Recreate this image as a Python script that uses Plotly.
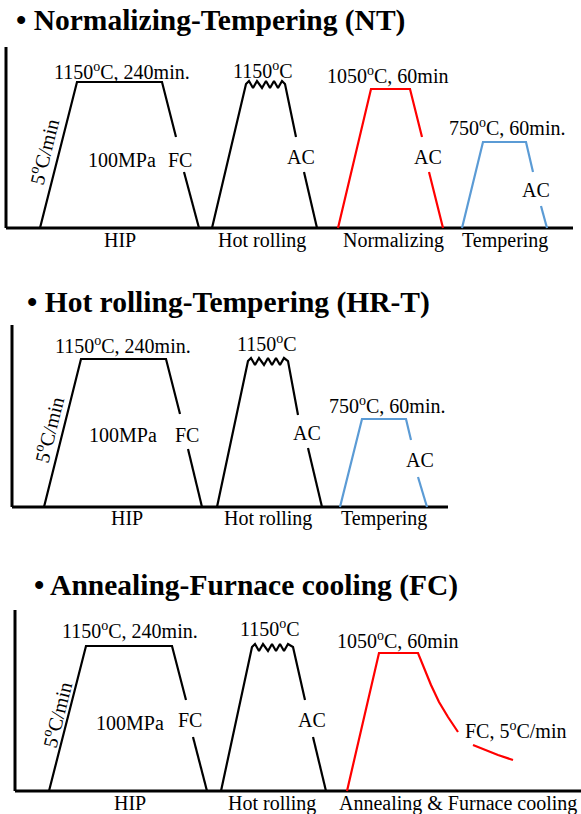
import plotly.graph_objects as go

W, H = 581, 814
FONT = "Liberation Serif"
BLACK, RED, BLUE = "#000000", "#ff0000", "#5b9bd5"
LABEL_SIZE = 20
TITLE_SIZE = 29.5

# ---------- schematic data (x: process time, schematic units; y: temperature level above baseline) ----------
# Panel 1: Normalizing-Tempering (NT)
p1_axis_x, p1_axis_y = [6, 6], [181, 0]
p1_base_x, p1_base_y = [6, 573], [0, 0]
p1_hip_a_x, p1_hip_a_y = [40, 77, 162, 176], [0, 146, 146, 91]
p1_hip_b_x, p1_hip_b_y = [184, 199], [56, 0]
p1_hr_a_x = [212, 246, 249, 253, 257, 262, 266, 270, 274, 278, 282, 285, 296]
p1_hr_a_y = [0, 144, 147, 140, 147, 140, 147, 140, 147, 140, 147, 144, 91]
p1_hr_b_x, p1_hr_b_y = [304, 317], [56, 0]
p1_norm_a_x, p1_norm_a_y = [338, 371, 410, 422], [0, 139, 139, 91]
p1_norm_b_x, p1_norm_b_y = [429, 443], [56, 0]
p1_temp_a_x, p1_temp_a_y = [462, 483, 526, 533], [0, 86, 86, 56]
p1_temp_b_x, p1_temp_b_y = [541, 547], [22, 0]

# Panel 2: Hot rolling-Tempering (HR-T)
p2_axis_x, p2_axis_y = [12, 12], [182, 0]
p2_base_x, p2_base_y = [12, 448], [0, 0]
p2_hip_a_x, p2_hip_a_y = [44, 81, 166, 180], [0, 148, 148, 93]
p2_hip_b_x, p2_hip_b_y = [188, 202], [58, 0]
p2_hr_a_x = [217, 248, 251, 255, 259, 264, 268, 272, 276, 280, 284, 288, 298]
p2_hr_a_y = [0, 146, 149, 142, 149, 142, 149, 142, 149, 142, 149, 146, 92]
p2_hr_b_x, p2_hr_b_y = [308, 322], [59, 0]
p2_temp_a_x, p2_temp_a_y = [340, 362, 406, 411], [0, 88, 88, 67]
p2_temp_b_x, p2_temp_b_y = [418, 427], [30, 0]

# Panel 3: Annealing-Furnace cooling (FC)
p3_axis_x, p3_axis_y = [15, 15], [181, 0]
p3_base_x, p3_base_y = [15, 581], [0, 0]
p3_hip_a_x, p3_hip_a_y = [49, 86, 172, 186], [0, 145, 145, 91]
p3_hip_b_x, p3_hip_b_y = [193, 207], [54, 0]
p3_hr_a_x = [221, 252, 255, 259, 263, 268, 272, 276, 280, 284, 288, 293, 305]
p3_hr_a_y = [0, 144, 147, 140, 147, 140, 147, 140, 147, 140, 147, 144, 91]
p3_hr_b_x, p3_hr_b_y = [313, 326], [54, 0]
p3_ann_a_x = [347, 379, 418, 424, 431, 439, 448, 458]
p3_ann_a_y = [0, 138, 138, 123, 106, 89, 74, 59]
p3_ann_b_x, p3_ann_b_y = [473, 485, 498, 513], [46, 41, 36, 31]

# ---------- labels: (text, x, y, angle) ----------
deg = "<sup>o</sup>C"
p1_labels = [
    ("1150" + deg + ", 240min.", 122, 157, 0),
    ("1150" + deg, 263, 158, 0),
    ("5" + deg + "/min", 43, 76, -76),
    ("100MPa", 122, 68, 0),
    ("FC", 180, 68, 0),
    ("AC", 301, 71, 0),
    ("1050" + deg + ", 60min", 387, 153, 0),
    ("AC", 428, 71, 0),
    ("750" + deg + ", 60min.", 507, 101, 0),
    ("AC", 536, 38, 0),
    ("HIP", 120, -12, 0),
    ("Hot rolling", 262, -12, 0),
    ("Normalizing", 393, -12, 0),
    ("Tempering", 505, -12, 0),
]
p2_labels = [
    ("1150" + deg + ", 240min.", 123, 162, 0),
    ("1150" + deg, 267, 164, 0),
    ("5" + deg + "/min", 48, 77, -76),
    ("100MPa", 123, 72, 0),
    ("FC", 187, 72, 0),
    ("AC", 307, 74, 0),
    ("750" + deg + ", 60min.", 387, 102, 0),
    ("AC", 420, 47, 0),
    ("HIP", 127, -11, 0),
    ("Hot rolling", 268, -11, 0),
    ("Tempering", 384, -11, 0),
]
p3_labels = [
    ("1150" + deg + ", 240min.", 130, 161, 0),
    ("1150" + deg, 270, 163, 0),
    ("5" + deg + "/min", 56, 76, -76),
    ("100MPa", 130, 68, 0),
    ("FC", 190, 71, 0),
    ("AC", 312, 71, 0),
    ("1050" + deg + ", 60min", 397, 151, 0),
    ("FC, 5" + deg + "/min", 515, 61, 0),
    ("HIP", 130, -12, 0),
    ("Hot rolling", 272, -12, 0),
    ("Annealing &amp; Furnace cooling", 458, -12, 0),
]
titles = [
    ("• Normalizing-Tempering (NT)", 14, 208),
    ("• Hot rolling-Tempering (HR-T)", 25, 204),
    ("• Annealing-Furnace cooling (FC)", 32, 206),
]

# panel pixel bands (top row, bottom row, baseline row)
bands = [(0, 260, 228), (280, 540, 507), (560, 814, 791)]

fig = go.Figure()


def add_line(xs, ys, color, width, k):
    ax = "" if k == 1 else str(k)
    fig.add_trace(go.Scatter(x=xs, y=ys, mode="lines",
                             line=dict(color=color, width=width),
                             xaxis="x" + ax, yaxis="y" + ax,
                             hoverinfo="skip", showlegend=False, cliponaxis=False))


panels = [
    dict(axis=(p1_axis_x, p1_axis_y), base=(p1_base_x, p1_base_y),
         segs=[(p1_hip_a_x, p1_hip_a_y, BLACK), (p1_hip_b_x, p1_hip_b_y, BLACK),
               (p1_hr_a_x, p1_hr_a_y, BLACK), (p1_hr_b_x, p1_hr_b_y, BLACK),
               (p1_norm_a_x, p1_norm_a_y, RED), (p1_norm_b_x, p1_norm_b_y, RED),
               (p1_temp_a_x, p1_temp_a_y, BLUE), (p1_temp_b_x, p1_temp_b_y, BLUE)],
         labels=p1_labels),
    dict(axis=(p2_axis_x, p2_axis_y), base=(p2_base_x, p2_base_y),
         segs=[(p2_hip_a_x, p2_hip_a_y, BLACK), (p2_hip_b_x, p2_hip_b_y, BLACK),
               (p2_hr_a_x, p2_hr_a_y, BLACK), (p2_hr_b_x, p2_hr_b_y, BLACK),
               (p2_temp_a_x, p2_temp_a_y, BLUE), (p2_temp_b_x, p2_temp_b_y, BLUE)],
         labels=p2_labels),
    dict(axis=(p3_axis_x, p3_axis_y), base=(p3_base_x, p3_base_y),
         segs=[(p3_hip_a_x, p3_hip_a_y, BLACK), (p3_hip_b_x, p3_hip_b_y, BLACK),
               (p3_hr_a_x, p3_hr_a_y, BLACK), (p3_hr_b_x, p3_hr_b_y, BLACK),
               (p3_ann_a_x, p3_ann_a_y, RED), (p3_ann_b_x, p3_ann_b_y, RED)],
         labels=p3_labels),
]

layout = dict(width=W, height=H, margin=dict(l=0, r=0, t=0, b=0),
              paper_bgcolor="white", plot_bgcolor="white", showlegend=False,
              font=dict(family=FONT, color="black", size=LABEL_SIZE))
annotations = []

for k, (pan, band, title) in enumerate(zip(panels, bands, titles), start=1):
    top, bottom, baseline = band
    ax = "" if k == 1 else str(k)
    layout["xaxis" + ax] = dict(domain=[0, 1], range=[0, W], visible=False,
                                anchor="y" + ax, fixedrange=True)
    layout["yaxis" + ax] = dict(domain=[1 - bottom / H, 1 - top / H],
                                range=[baseline - bottom, baseline - top],
                                visible=False, anchor="x" + ax, fixedrange=True)
    add_line(*pan["axis"], BLACK, 3, k)
    add_line(*pan["base"], BLACK, 3, k)
    for xs, ys, c in pan["segs"]:
        add_line(xs, ys, c, 2.2, k)
    for txt, x, y, ang in pan["labels"]:
        annotations.append(dict(text=txt, x=x, y=y, xref="x" + ax, yref="y" + ax,
                                showarrow=False, textangle=ang,
                                font=dict(family=FONT, size=LABEL_SIZE, color="black"),
                                xanchor="center", yanchor="middle"))
    ttxt, tx, ty = title
    annotations.append(dict(text="<b>" + ttxt + "</b>", x=tx, y=ty,
                            xref="x" + ax, yref="y" + ax, showarrow=False,
                            font=dict(family=FONT, size=TITLE_SIZE, color="black"),
                            xanchor="left", yanchor="middle"))

layout["annotations"] = annotations
fig.update_layout(**layout)
fig.write_html("out.html", config={"displayModeBar": False},
               post_script="document.body.style.margin='0px';document.body.style.overflow='hidden';")
